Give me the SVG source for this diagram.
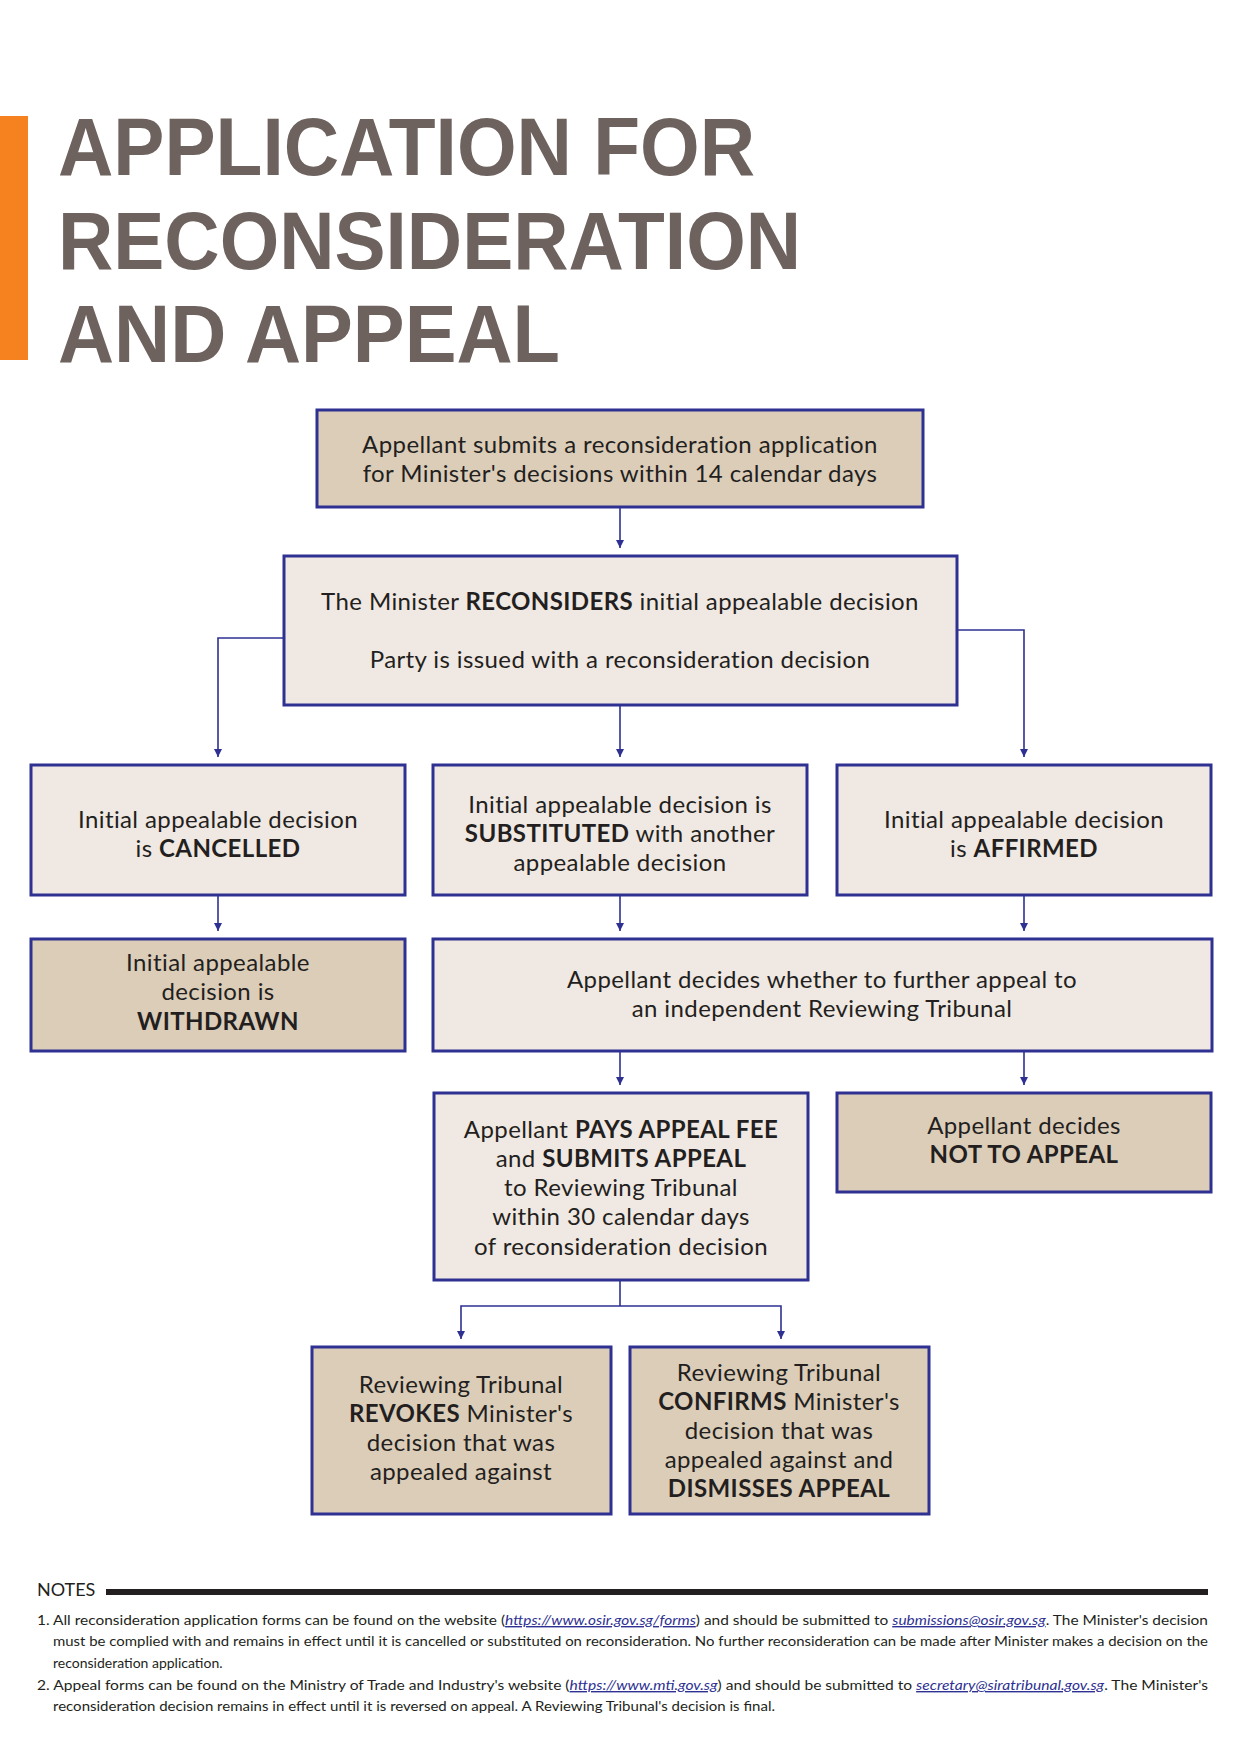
<svg xmlns="http://www.w3.org/2000/svg" width="1241" height="1754" viewBox="0 0 1241 1754">
<style>
.t{font-family:"Liberation Sans",Arial,sans-serif;font-weight:bold;font-size:81px;fill:#6d625e}
.box{stroke:#2e3192;stroke-width:3}
.tan{fill:#dccdb9}
.lt{fill:#f0e8e2}
.bx{font-family:Lato,"Open Sans",sans-serif;font-size:24px;letter-spacing:0.4px;fill:#231f20;text-anchor:middle}
.b{font-weight:bold}
.c{fill:none;stroke:#2e3192;stroke-width:1.6}
.n{font-family:Lato,"Liberation Sans",sans-serif;font-size:14px;fill:#231f20}
.lk{fill:#2e3192;font-style:italic;text-decoration:underline}
</style>
<defs>
<marker id="ah" markerUnits="userSpaceOnUse" markerWidth="8" markerHeight="10" refX="8" refY="4" orient="auto">
<path d="M0,0 L8,4 L0,8 z" fill="#2e3192"/>
</marker>
</defs>
<rect width="1241" height="1754" fill="#fff"/>
<g id="title">
<rect x="0" y="116" width="28" height="244" fill="#f5821f"/>
<text class="t" x="58" y="175" textLength="697" lengthAdjust="spacingAndGlyphs">APPLICATION FOR</text>
<text class="t" x="58" y="269" textLength="743" lengthAdjust="spacingAndGlyphs">RECONSIDERATION</text>
<text class="t" x="58" y="362" textLength="502" lengthAdjust="spacingAndGlyphs">AND APPEAL</text>
</g>
<g id="connectors" class="c">
<path d="M620,507 V548" marker-end="url(#ah)"/>
<path d="M284,638 H218 V757" marker-end="url(#ah)"/>
<path d="M620,705 V757" marker-end="url(#ah)"/>
<path d="M957,630 H1024 V757" marker-end="url(#ah)"/>
<path d="M218,895 V931" marker-end="url(#ah)"/>
<path d="M620,895 V931" marker-end="url(#ah)"/>
<path d="M1024,895 V931" marker-end="url(#ah)"/>
<path d="M620,1051 V1085" marker-end="url(#ah)"/>
<path d="M1024,1051 V1085" marker-end="url(#ah)"/>
<path d="M620,1280 V1306"/>
<path d="M620,1306 H461 V1339" marker-end="url(#ah)"/>
<path d="M620,1306 H781 V1339" marker-end="url(#ah)"/>
</g>
<g id="n1">
<rect class="box tan" x="317" y="410" width="606" height="97"/>
<text class="bx" x="620" y="453">Appellant submits a reconsideration application</text>
<text class="bx" x="620" y="482">for Minister's decisions within 14 calendar days</text>
</g>
<g id="n2">
<rect class="box lt" x="284" y="556" width="673" height="149"/>
<text class="bx" x="620" y="610">The Minister <tspan class="b">RECONSIDERS</tspan> initial appealable decision</text>
<text class="bx" x="620" y="668">Party is issued with a reconsideration decision</text>
</g>
<g id="n3">
<rect class="box lt" x="31" y="765" width="374" height="130"/>
<text class="bx" x="218" y="828">Initial appealable decision</text>
<text class="bx" x="218" y="857">is <tspan class="b">CANCELLED</tspan></text>
</g>
<g id="n4">
<rect class="box lt" x="433" y="765" width="374" height="130"/>
<text class="bx" x="620" y="813">Initial appealable decision is</text>
<text class="bx" x="620" y="842"><tspan class="b">SUBSTITUTED</tspan> with another</text>
<text class="bx" x="620" y="871">appealable decision</text>
</g>
<g id="n5">
<rect class="box lt" x="837" y="765" width="374" height="130"/>
<text class="bx" x="1024" y="828">Initial appealable decision</text>
<text class="bx" x="1024" y="857">is <tspan class="b">AFFIRMED</tspan></text>
</g>
<g id="n6">
<rect class="box tan" x="31" y="939" width="374" height="112"/>
<text class="bx" x="218" y="971">Initial appealable</text>
<text class="bx" x="218" y="1000">decision is</text>
<text class="bx b" x="218" y="1030">WITHDRAWN</text>
</g>
<g id="n7">
<rect class="box lt" x="433" y="939" width="779" height="112"/>
<text class="bx" x="822" y="988">Appellant decides whether to further appeal to</text>
<text class="bx" x="822" y="1017">an independent Reviewing Tribunal</text>
</g>
<g id="n8">
<rect class="box lt" x="434" y="1093" width="374" height="187"/>
<text class="bx" x="621" y="1138">Appellant <tspan class="b">PAYS APPEAL FEE</tspan></text>
<text class="bx" x="621" y="1167">and <tspan class="b">SUBMITS APPEAL</tspan></text>
<text class="bx" x="621" y="1196">to Reviewing Tribunal</text>
<text class="bx" x="621" y="1225">within 30 calendar days</text>
<text class="bx" x="621" y="1255">of reconsideration decision</text>
</g>
<g id="n9">
<rect class="box tan" x="837" y="1093" width="374" height="99"/>
<text class="bx" x="1024" y="1134">Appellant decides</text>
<text class="bx b" x="1024" y="1163">NOT TO APPEAL</text>
</g>
<g id="n10">
<rect class="box tan" x="312" y="1347" width="299" height="167"/>
<text class="bx" x="461" y="1393">Reviewing Tribunal</text>
<text class="bx" x="461" y="1422"><tspan class="b">REVOKES</tspan> Minister's</text>
<text class="bx" x="461" y="1451">decision that was</text>
<text class="bx" x="461" y="1480">appealed against</text>
</g>
<g id="n11">
<rect class="box tan" x="630" y="1347" width="299" height="167"/>
<text class="bx" x="779" y="1381">Reviewing Tribunal</text>
<text class="bx" x="779" y="1410"><tspan class="b">CONFIRMS</tspan> Minister's</text>
<text class="bx" x="779" y="1439">decision that was</text>
<text class="bx" x="779" y="1468">appealed against and</text>
<text class="bx b" x="779" y="1497">DISMISSES APPEAL</text>
</g>
<g id="notes">
<text x="37" y="1596" font-family="Lato,'Liberation Sans',sans-serif" font-size="18" fill="#231f20">NOTES</text>
<rect x="106" y="1589" width="1102" height="6" fill="#231f20"/>
<text class="n" x="37" y="1625" textLength="1171" lengthAdjust="spacingAndGlyphs">1. All reconsideration application forms can be found on the website (<tspan class="lk">https://www.osir.gov.sg/forms</tspan>) and should be submitted to <tspan class="lk">submissions@osir.gov.sg</tspan>. The Minister's decision</text>
<text class="n" x="53" y="1646" textLength="1155" lengthAdjust="spacingAndGlyphs">must be complied with and remains in effect until it is cancelled or substituted on reconsideration. No further reconsideration can be made after Minister makes a decision on the</text>
<text class="n" x="53" y="1668">reconsideration application.</text>
<text class="n" x="37" y="1690" textLength="1171" lengthAdjust="spacingAndGlyphs">2. Appeal forms can be found on the Ministry of Trade and Industry's website (<tspan class="lk">https://www.mti.gov.sg</tspan>) and should be submitted to <tspan class="lk">secretary@siratribunal.gov.sg</tspan>. The Minister's</text>
<text class="n" x="53" y="1711" textLength="722" lengthAdjust="spacingAndGlyphs">reconsideration decision remains in effect until it is reversed on appeal. A Reviewing Tribunal's decision is final.</text>
</g>
</svg>
